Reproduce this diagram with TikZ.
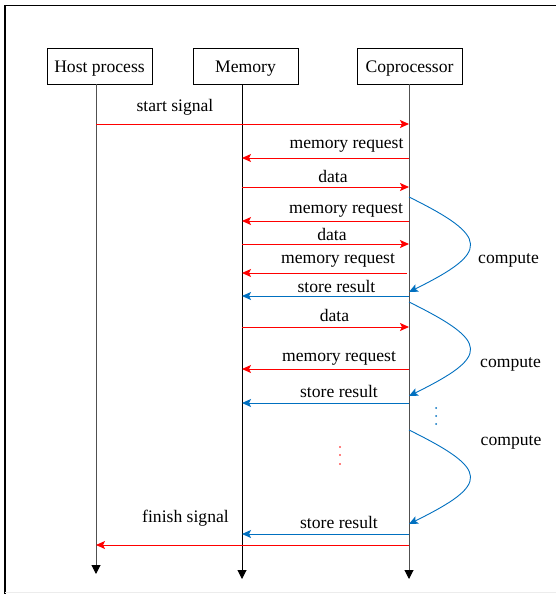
\documentclass[tikz,border=0pt]{standalone}
\usepackage{fontspec}
\setmainfont{Liberation Serif}
\usetikzlibrary{arrows.meta}
\definecolor{msgred}{RGB}{255,0,0}
\definecolor{msgblue}{RGB}{0,112,192}
\definecolor{lifegray}{RGB}{80,80,80}
\begin{document}
\begin{tikzpicture}[x=1pt,y=1pt,
  font=\fontsize{17.6}{20}\selectfont,
  actor/.style={draw, line width=0.9pt, minimum width=105pt, minimum height=36pt, inner sep=0pt, text height=12pt, text depth=0pt},
  life/.style={line width=1pt, -{Triangle[length=9pt,width=9pt,color=black]}},
  req/.style={msgred, line width=1pt, -{Stealth[length=9pt,width=8pt,inset=2pt]}},
  res/.style={msgblue, line width=1pt, -{Stealth[length=9pt,width=8pt,inset=2pt]}},
  comp/.style={msgblue, line width=0.9pt, -{Stealth[length=9pt,width=8pt,inset=2pt]}},
  lbl/.style={anchor=base, inner sep=0pt},
  dotmark/.style={inner sep=0pt, minimum size=2pt, circle, fill}
]
\useasboundingbox (0,0) rectangle (556,-594);
\fill[white] (0,0) rectangle (556,-594);
% frame
\draw[line width=1.2pt] (5,-594) -- (5,-5.5) -- (556,-5.5);
\draw[gray!15, line width=0.8pt] (5,-592.5) -- (556,-592.5);

% actors
\node[actor] (host) at (99.5,-66) {Host process};
\node[actor] (mem)  at (245.5,-66) {Memory};
\node[actor] (cop)  at (409.5,-66) {Coprocessor};

% lifelines
\coordinate (htop) at (96,-84);
\coordinate (hend) at (96,-574);
\coordinate (mtop) at (242,-84);
\coordinate (mend) at (242,-579);
\coordinate (ctop) at (409,-84);
\coordinate (cend) at (409,-579);
\draw[life, lifegray] (htop) -- (hend);
\draw[life, black] (mtop) -- (mend);
\draw[life, lifegray] (ctop) -- (cend);

% message end points
\foreach \n/\y in {1/124,2/158,3/187,4/221,5/244,6/273,7/296,8/327,9/369,10/403,11/534,12/545}{
  \coordinate (h\n) at (96,-\y);
  \coordinate (m\n) at (242,-\y);
  \coordinate (c\n) at (409,-\y);
}

% messages
\draw[req] (h1) -- (c1);
\node[lbl] (l1) at (175,-111) {start signal};
\draw[req] (c2) -- (m2);
\node[lbl] (l2) at (346.5,-148) {memory request};
\draw[req] (m3) -- (c3);
\node[lbl] (l3) at (333,-182) {data};
\draw[req] (c4) -- (m4);
\node[lbl] (l4) at (346,-213) {memory request};
\draw[req] (m5) -- (c5);
\node[lbl] (l5) at (332,-240) {data};
\coordinate (c6b) at (407,-273);
\draw[req] (c6b) -- (m6);
\node[lbl] (l6) at (338,-263) {memory request};
\draw[res] (c7) -- (m7);
\node[lbl] (l7) at (336.5,-292.5) {store result};
\draw[req] (m8) -- (c8);
\node[lbl] (l8) at (334.5,-321) {data};
\draw[req] (c9) -- (m9);
\node[lbl] (l9) at (339,-361) {memory request};
\draw[res] (c10) -- (m10);
\node[lbl] (l10) at (339,-397) {store result};
\draw[res] (c11) -- (m11);
\node[lbl] (l11) at (339,-528) {store result};
\draw[req] (c12) -- (h12);
\node[lbl] (l12) at (185.5,-522) {finish signal};

% compute loops
\coordinate (k1s) at (409,-197);
\coordinate (k1e) at (409,-292);
\coordinate (k2s) at (409,-302);
\coordinate (k2e) at (409,-396);
\coordinate (k3s) at (409,-430);
\coordinate (k3e) at (409,-524);
\draw[comp] (k1s) .. controls (490,-237) and (490,-252) .. (k1e);
\draw[comp] (k2s) .. controls (490,-342) and (490,-356) .. (k2e);
\draw[comp] (k3s) .. controls (490,-470) and (490,-484) .. (k3e);
\node[lbl] (p1) at (508.5,-263) {compute};
\node[lbl] (p2) at (510.5,-367) {compute};
\node[lbl] (p3) at (511,-445) {compute};

% continuation dots
\foreach \y [count=\i] in {408,416,424}{
  \node[dotmark, msgblue] (bd\i) at (436,-\y) {};
}
\foreach \y [count=\i] in {447,455,464}{
  \node[dotmark, msgred, minimum size=1.6pt] (rd\i) at (340,-\y) {};
}
\end{tikzpicture}
\end{document}
